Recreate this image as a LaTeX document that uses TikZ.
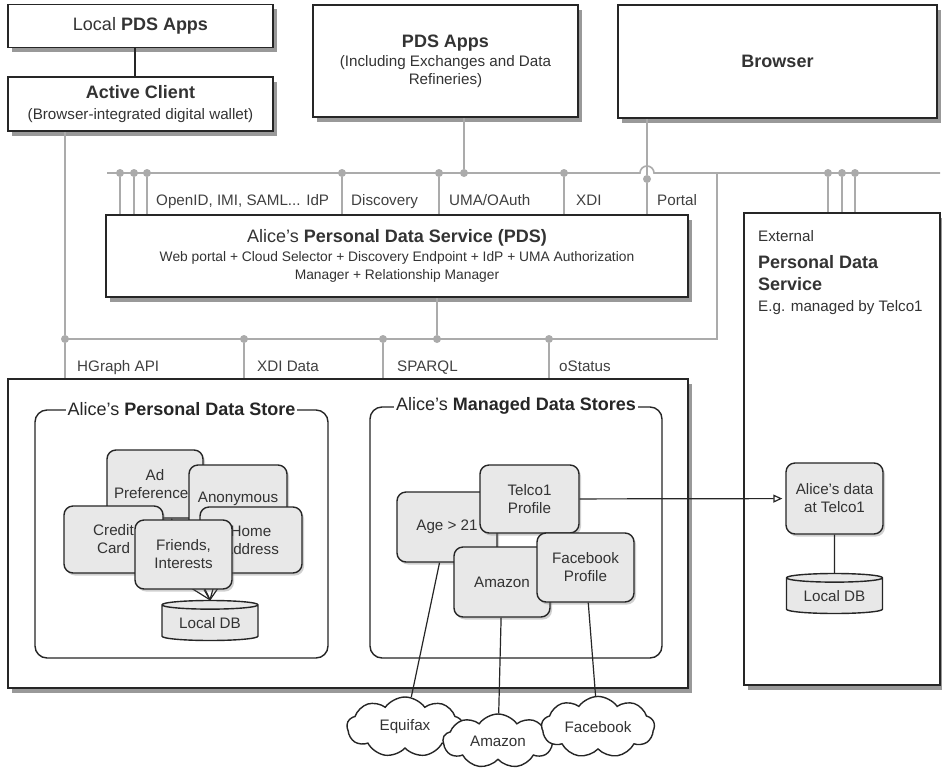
\documentclass[tikz,border=0pt]{standalone}
\usepackage{fontspec}
\setmainfont{Liberation Sans}
\usepackage{tikz}
\usetikzlibrary{shapes.geometric,shapes.symbols,arrows.meta,shadows,calc}

\newcommand\hdfont{\fontsize{18}{21}\selectfont}
\newcommand\lbfont{\fontsize{15.2}{18}\selectfont}
\newcommand\smfont{\fontsize{13.8}{18}\selectfont}

\pgfdeclarelayer{back}
\pgfdeclarelayer{wires}
\pgfsetlayers{back,wires,main}

\tikzset{
    bigbox/.style={draw=black!85, line width=1.8pt, fill=white, inner sep=0pt, align=center, text=black!80,
        drop shadow={shadow xshift=3.5pt, shadow yshift=-4.5pt, fill=black!80, opacity=0.5}},
    item/.style={draw=black!85, line width=1.4pt, fill=black!9, rounded corners=9pt, inner sep=0pt,
        align=center, font=\lbfont, text=black!80,
        drop shadow={shadow xshift=2pt, shadow yshift=-2.5pt, fill=black!60, opacity=0.3}},
    dbnode/.style={cylinder, shape border rotate=90, aspect=0.14, draw=black!85, line width=1.4pt,
        fill=black!9, minimum width=96pt, minimum height=40pt, inner sep=0pt, font=\lbfont, text=black!80},
    cloudnode/.style={cloud, cloud puffs=9, cloud puff arc=110, aspect=2, draw=black!85, line width=1.4pt,
        fill=white, inner sep=0pt, font=\lbfont, text=black!80},
    bus/.style={draw=black!33, line width=1.6pt},
    port/.style={circle, fill=black!33, inner sep=0pt, minimum size=8pt},
    buslabel/.style={anchor=base west, font=\lbfont, text=black!75, inner sep=0pt},
    exttext/.style={anchor=base west, text=black!80, inner sep=0pt},
    group/.style={draw=black!85, line width=1.4pt, rounded corners=12pt, inner sep=0pt},
    grouptitle/.style={fill=white, inner sep=2pt, font=\hdfont, text=black!85},
}

\begin{document}
\begin{tikzpicture}[x=1pt, y=-1pt]
    \useasboundingbox (0,0) rectangle (942,769);

    % Top row of clients
    \node[bigbox, font=\hdfont, minimum width=265, minimum height=43] (localapps) at (140.5,26) {Local \textbf{PDS Apps}};
    \node[bigbox, font=\lbfont, minimum width=265, minimum height=54] (client) at (140.5,104)
        {{\hdfont\textbf{Active Client}}\\[3pt] (Browser-integrated digital wallet)};
    \node[bigbox, font=\lbfont, minimum width=265, minimum height=112] (pdsapps) at (445.5,61)
        {{\hdfont\textbf{PDS Apps}}\\[1pt] (Including Exchanges and Data\\ Refineries)};
    \node[bigbox, font=\hdfont, minimum width=319, minimum height=113] (browser) at (777.5,61.5) {\textbf{Browser}};
    \draw[draw=black!85, line width=1.6pt] (localapps.south -| 135,0) -- (client.north -| 135,0);

    % Personal Data Service
    \node[bigbox, font=\smfont, minimum width=582, minimum height=82] (pds) at (397,256)
        {{\hdfont Alice’s \textbf{Personal Data Service (PDS)}}\\[1pt]
         Web portal + Cloud Selector + Discovery Endpoint + IdP + UMA Authorization\\
         Manager + Relationship Manager};

    % External service
    \node[bigbox, minimum width=196, minimum height=472] (external) at (842,449) {};
    \node[exttext, font=\lbfont] (extname) at (758,241) {External};
    \node[exttext, font=\hdfont] (exttitle) at (758,268) {\textbf{Personal Data}};
    \node[exttext, font=\hdfont] (exttitleb) at (758,290) {\textbf{Service}};
    \node[exttext, font=\lbfont] (extnote) at (758,311) {E.g. managed by Telco1};

    % Data stores box
    \begin{pgfonlayer}{back}
        \node[bigbox, minimum width=680, minimum height=309] (store) at (348,533.5) {};
        \node[group, minimum width=293, minimum height=248] (pstore) at (181.5,534) {};
        \node[group, minimum width=292, minimum height=251] (mstore) at (516,532.5) {};
    \end{pgfonlayer}
    \node[grouptitle] (pstoretitle) at (pstore.north) {Alice’s \textbf{Personal Data Store}};
    \node[grouptitle] (mstoretitle) at (mstore.north) {Alice’s \textbf{Managed Data Stores}};

    % Personal data items
    \node[item, minimum width=96, minimum height=68] (adpref) at (155,484) {Ad\\Preferences};
    \node[item, minimum width=98, minimum height=68] (anon) at (238,499) {Anonymous};
    \node[item, minimum width=99, minimum height=67] (credit) at (113.5,539.5) {Credit\\Card};
    \node[item, minimum width=102, minimum height=66] (home) at (251,540) {Home\\Address};
    \node[item, minimum width=97, minimum height=69] (friends) at (183.5,554.5) {Friends,\\Interests};
    \node[dbnode] (localdb) at (210,623) {Local DB};
    \begin{pgfonlayer}{wires}
        \foreach \n in {adpref,anon,credit,home,friends} {
            \draw[draw=black!85, line width=1.2pt] (\n) -- (localdb.north);
        }
    \end{pgfonlayer}

    % Managed data items
    \node[item, minimum width=100, minimum height=70] (age) at (447,527) {Age > 21};
    \node[item, minimum width=99, minimum height=68] (telco) at (529.5,499) {Telco1\\Profile};
    \node[item, minimum width=96, minimum height=70] (amazon) at (502,582) {Amazon};
    \node[item, minimum width=97, minimum height=69] (facebook) at (585.5,567.5) {Facebook\\Profile};

    % Data at Telco1
    \node[item, minimum width=97, minimum height=71] (teldata) at (834.5,498.5) {Alice’s data\\at Telco1};
    \node[dbnode] (teldb) at (834.5,596) {Local DB};
    \draw[draw=black!85, line width=1.4pt] (teldata) -- (teldb);
    \draw[draw=black!85, line width=1.2pt, shorten >=3pt, -{Triangle[open, length=9pt, width=8pt]}] (telco) -- (teldata);

    % Outside sources
    \node[cloudnode, minimum width=116, minimum height=60] (equifax) at (405,727) {Equifax};
    \node[cloudnode, minimum width=110, minimum height=54] (amazoncloud) at (498,741) {Amazon};
    \node[cloudnode, minimum width=113, minimum height=60] (fbcloud) at (598,727) {Facebook};
    \draw[draw=black!85, line width=1.2pt] (age) -- (equifax);
    \draw[draw=black!85, line width=1.2pt] (amazon) -- (amazoncloud);
    \draw[draw=black!85, line width=1.2pt] (facebook) -- (fbcloud);

    % Upper bus
    \coordinate (busL) at (107,173);
    \coordinate (busR) at (940,173);
    \coordinate (hop) at (647,173);
    \draw[bus] (busL) -- ($(hop)+(-7,0)$) arc[start angle=180, end angle=0, radius=7pt] -- (busR);
    \foreach \x/\n in {120/pa,134/pb,147/pc,342/pdisc,439/puma,564/pxdi} {
        \node[port] (\n) at (\x,173) {};
        \draw[bus] (\n) -- (\n |- pds.north);
    }
    \node[port] (papps) at (464,173) {};
    \draw[bus] (papps) -- (papps |- pdsapps.south);
    \node[port] (portal) at (647,179) {};
    \draw[bus] (portal |- browser.south) -- (portal);
    \draw[bus] (portal) -- (portal |- pds.north);
    \foreach \x/\n in {828/pea,842/peb,855/pec} {
        \node[port] (\n) at (\x,173) {};
        \draw[bus] (\n) -- (\n |- external.north);
    }

    % Lower bus
    \coordinate (lowL) at (65,339);
    \coordinate (lowR) at (717,339);
    \coordinate (lowUp) at (717,173);
    \draw[bus] (lowL) -- (lowR) -- (lowUp);
    \foreach \x/\n in {65/phgraph,244/pxdidata,383/psparql,549/postatus} {
        \node[port] (\n) at (\x,339) {};
        \draw[bus] (\n) -- (\n |- store.north);
    }
    \draw[bus] (phgraph |- client.south) -- (phgraph);
    \node[port] (ppds) at (437,339) {};
    \draw[bus] (ppds) -- (ppds |- pds.south);

    % Port labels
    \node[buslabel] (lopenid) at (156,205) {OpenID, IMI, SAML... IdP};
    \node[buslabel] (ldisc) at (351,205) {Discovery};
    \node[buslabel] (luma) at (449,205) {UMA/OAuth};
    \node[buslabel] (lxdi) at (576,205) {XDI};
    \node[buslabel] (lportal) at (657,205) {Portal};
    \node[buslabel] (lhgraph) at (77,371) {HGraph API};
    \node[buslabel] (lxdidata) at (257,371) {XDI Data};
    \node[buslabel] (lsparql) at (397,371) {SPARQL};
    \node[buslabel] (lostatus) at (559,371) {oStatus};

\end{tikzpicture}
\end{document}
